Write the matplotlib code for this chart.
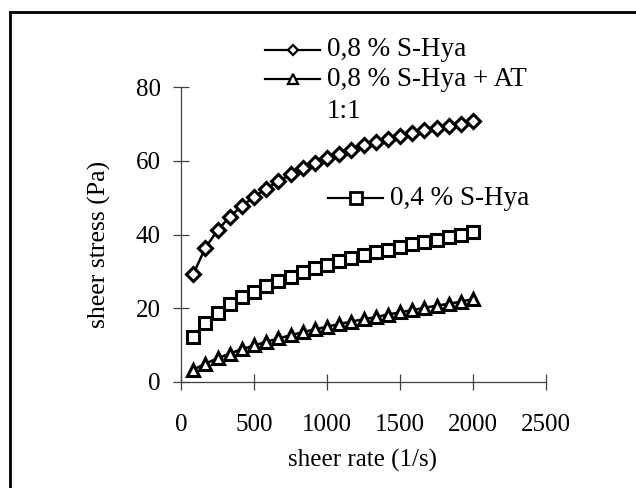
import matplotlib
matplotlib.use("Agg")
import matplotlib.pyplot as plt
from matplotlib.lines import Line2D

plt.rcParams['font.family'] = ['Liberation Serif', 'DejaVu Serif']
plt.rcParams['font.size'] = 18

# sheer rate (1/s)
rate = [83, 167, 250, 333, 417, 500, 583, 667, 750, 833, 917, 1000,
        1083, 1167, 1250, 1333, 1417, 1500, 1583, 1667, 1750, 1833, 1917, 2000]

# sheer stress (Pa)
hya08 = [29.2, 36.4, 41.1, 44.8, 47.7, 50.2, 52.4, 54.4, 56.3, 57.9, 59.4, 60.8,
         61.9, 63.0, 64.2, 65.1, 66.0, 66.8, 67.6, 68.3, 68.9, 69.5, 70.1, 70.7]
hya04 = [12.2, 16.1, 18.8, 21.1, 23.1, 24.5, 26.0, 27.3, 28.6, 29.7, 30.9, 31.8,
         32.7, 33.5, 34.4, 35.2, 35.9, 36.6, 37.3, 38.0, 38.6, 39.2, 40.0, 40.8]
hya08_at = [3.3, 5.0, 6.4, 7.7, 8.9, 9.9, 10.9, 11.8, 12.7, 13.5, 14.3, 15.0,
            15.7, 16.4, 17.0, 17.6, 18.3, 18.9, 19.5, 20.1, 20.7, 21.2, 21.8, 22.5]

xticks = [0, 500, 1000, 1500, 2000, 2500]
yticks = [0, 20, 40, 60, 80]

W, H = 636, 488
fig = plt.figure(figsize=(W / 100, H / 100), dpi=100)
ax = fig.add_axes([181 / W, 1 - 382 / H, (546 - 181) / W, (382 - 87) / H])

mk = dict(color='black', lw=1.8, markerfacecolor='white', markeredgecolor='black',
          markeredgewidth=2.2, clip_on=False)
ax.plot(rate, hya08, marker='D', ms=6.8, **mk)
ax.plot(rate, hya04, marker='s', ms=8.3, **mk)
ax.plot(rate, hya08_at, marker='^', ms=8.8, **mk)

ax.set_xlim(0, 2500)
ax.set_ylim(0, 80)
ax.set_xticks(xticks)
ax.set_yticks(yticks)
for s in ['top', 'right']:
    ax.spines[s].set_visible(False)
for s in ['left', 'bottom']:
    ax.spines[s].set_color('#404040')
    ax.spines[s].set_linewidth(0.9)
ax.tick_params(direction='inout', length=11.5, width=0.9, color='#404040', labelsize=18)
ax.tick_params(axis='x', pad=17)
ax.tick_params(axis='y', pad=9)

fig.text(362 / W, 1 - 460 / H, 'sheer rate (1/s)', ha='center', va='center', fontsize=18)
fig.text(99 / W, 1 - 244 / H, 'sheer stress (Pa)', ha='center', va='center',
         rotation=90, fontsize=18.5)

# legend entries
def legend_item(x0, x1, y, marker, ms, mew, label):
    fig.add_artist(Line2D([x0 / W, x1 / W], [1 - y / H, 1 - y / H], transform=fig.transFigure,
                          color='black', lw=1.6))
    fig.add_artist(Line2D([(x0 + x1) / 2 / W], [1 - y / H], transform=fig.transFigure,
                          marker=marker, ms=ms, markerfacecolor='white',
                          markeredgecolor='black', markeredgewidth=mew, linestyle='none'))
    fig.text((x1 + 7) / W, 1 - y / H, label, ha='left', va='center', fontsize=19.5)

legend_item(265, 320, 50, 'D', 5.4, 1.6, '0,8 % S-Hya')
legend_item(265, 320, 79, '^', 7.2, 1.6, '0,8 % S-Hya + AT')
fig.text(327 / W, 1 - 111 / H, '1:1', ha='left', va='center', fontsize=19.5)
legend_item(328, 383, 198, 's', 8.7, 2.0, '0,4 % S-Hya')

# outer frame (left and top edges visible)
fig.add_artist(Line2D([10 / W, 10 / W], [1 - 12 / H, 0], transform=fig.transFigure,
                      color='black', lw=2, solid_capstyle='projecting'))
fig.add_artist(Line2D([10 / W, 1], [1 - 12 / H, 1 - 12 / H], transform=fig.transFigure,
                      color='black', lw=2, solid_capstyle='projecting'))

fig.savefig('out.png', dpi=100)
